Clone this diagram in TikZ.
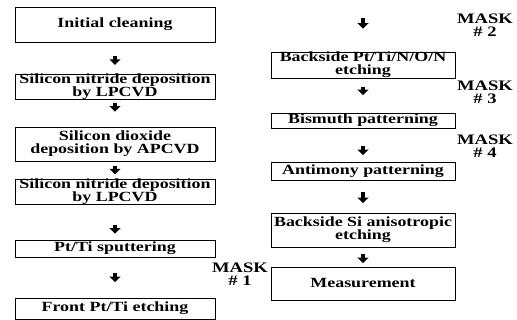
\documentclass[tikz,border=0pt]{standalone}
\usepackage{fontspec}
\setmainfont{Liberation Serif}[FakeStretch=1.28]
\usetikzlibrary{arrows.meta}
\tikzset{
  stage/.style={draw=black, line width=0.8pt, align=center, inner sep=0pt, font=\bfseries\fontsize{14}{12.8}\selectfont},
  lstage/.style={stage, minimum width=200pt},
  rstage/.style={stage, minimum width=184pt},
  darr/.style={line width=4.5pt, -{Triangle[length=5.5pt,width=11pt]}},
  msk/.style={align=center, inner sep=0pt, font=\bfseries\fontsize{14.5}{13}\selectfont}
}
\begin{document}
\begin{tikzpicture}[x=1pt, y=-1pt]
\useasboundingbox (0,0) rectangle (517,320);
\node[lstage, minimum height=35pt] (clean) at (115,24.5) {Initial cleaning};
\node[lstage, minimum height=24pt] (nit1) at (115,87) {Silicon nitride deposition\\by LPCVD};
\node[lstage, minimum height=34pt] (oxide) at (115,144) {Silicon dioxide\\deposition by APCVD};
\node[lstage, minimum height=24pt] (nit2) at (115,192) {Silicon nitride deposition\\by LPCVD};
\node[lstage, minimum height=17pt] (sput) at (115,248.5) {Pt/Ti sputtering};
\node[lstage, minimum height=21pt] (front) at (115,308.5) {Front Pt/Ti etching};

\node[rstage, minimum height=26pt] (back) at (363,65) {Backside Pt/Ti/N/O/N\\etching};
\node[rstage, minimum height=15pt] (bism) at (363,120.5) {Bismuth patterning};
\node[rstage, minimum height=18pt] (anti) at (363,171) {Antimony patterning};
\node[rstage, minimum height=34pt] (siet) at (363,230) {Backside Si anisotropic\\etching};
\node[rstage, minimum height=33pt] (meas) at (363,283.5) {Measurement};

\node[msk] (m1) at (240,274) {MASK\\\# 1};
\node[msk] (m2) at (485,25) {MASK\\\# 2};
\node[msk] (m3) at (485,92) {MASK\\\# 3};
\node[msk] (m4) at (485,146) {MASK\\\# 4};

\coordinate (cont) at (363,18);
\draw[darr, shorten <=14pt, shorten >=9pt] (clean) -- (nit1);
\draw[darr, shorten <=2.5pt, shorten >=15pt] (nit1) -- (oxide);
\draw[darr, shorten <=4.5pt, shorten >=4.5pt] (oxide) -- (nit2);
\draw[darr, shorten <=20pt, shorten >=6pt] (nit2) -- (sput);
\draw[darr, shorten <=15.5pt, shorten >=15.5pt] (sput) -- (front);
\draw[darr, shorten >=23pt] (cont) -- (back);
\draw[darr, shorten <=8.5pt, shorten >=17.5pt] (back) -- (bism);
\draw[darr, shorten <=18pt, shorten >=6.5pt] (bism) -- (anti);
\draw[darr, shorten <=12pt, shorten >=9.5pt] (anti) -- (siet);
\draw[darr, shorten <=7pt, shorten >=3.5pt] (siet) -- (meas);
\end{tikzpicture}
\end{document}
